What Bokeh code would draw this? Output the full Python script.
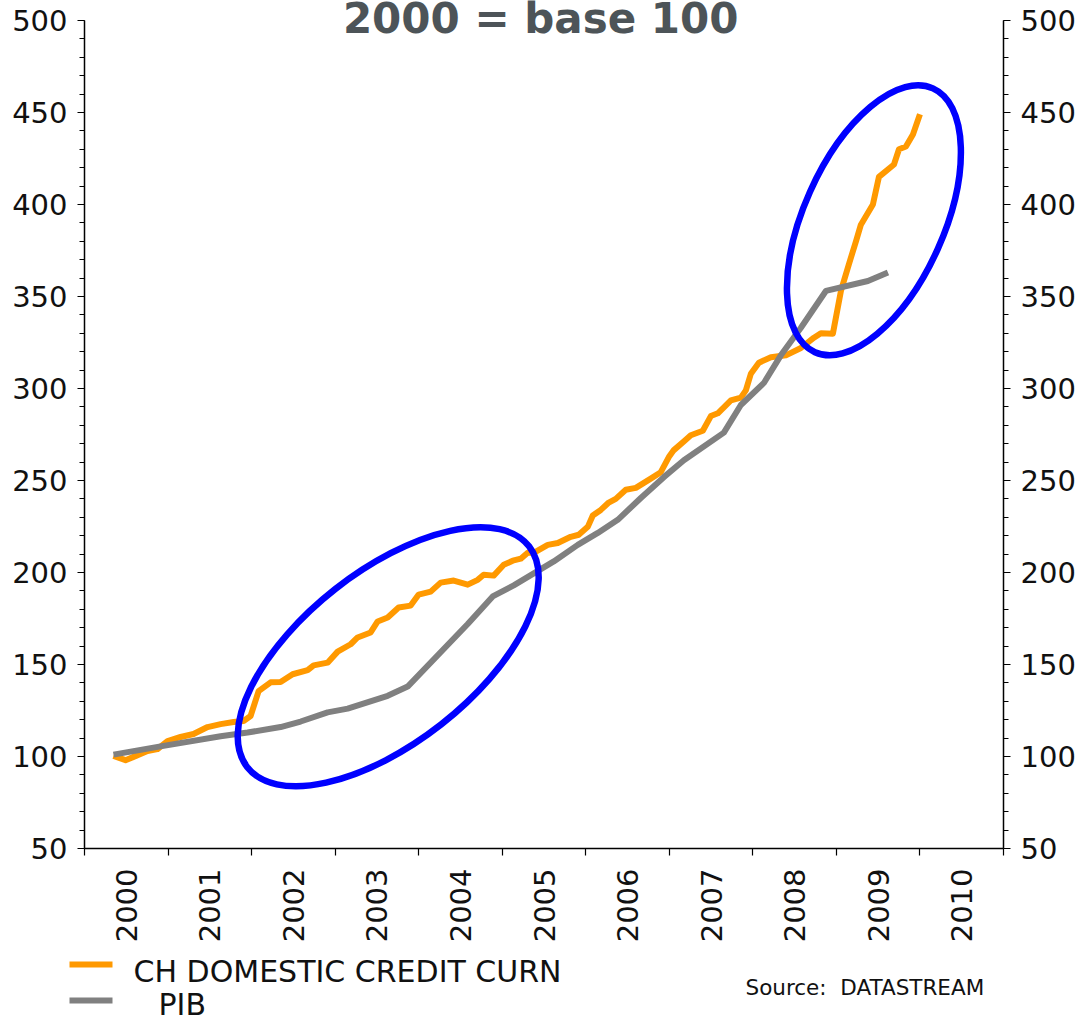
import numpy as np
from bokeh.plotting import figure
from bokeh.layouts import column
from bokeh.models import (Range1d, LinearAxis, FixedTicker, SingleIntervalTicker,
                          Label, ColumnDataSource)
from bokeh.core.properties import value
from bokeh.embed import file_html
from bokeh.resources import INLINE

# ---------------- data ----------------
credit_year = [2000.347, 2000.491, 2000.587, 2000.754, 2000.874, 2000.994, 2001.150, 2001.305,
               2001.473, 2001.629, 2001.784, 2001.904, 2001.988, 2002.084, 2002.228, 2002.347,
               2002.491, 2002.671, 2002.743, 2002.910, 2003.030, 2003.186, 2003.269, 2003.425,
               2003.509, 2003.629, 2003.760, 2003.904, 2004.000, 2004.144, 2004.263, 2004.419,
               2004.587, 2004.707, 2004.778, 2004.898, 2005.018, 2005.126, 2005.222, 2005.305,
               2005.377, 2005.545, 2005.665, 2005.820, 2005.916, 2006.024, 2006.084, 2006.180,
               2006.275, 2006.359, 2006.479, 2006.599, 2006.778, 2006.898, 2006.994, 2007.054,
               2007.180, 2007.257, 2007.401, 2007.497, 2007.581, 2007.737, 2007.856, 2007.916,
               2007.976, 2008.072, 2008.216, 2008.395, 2008.575, 2008.731, 2008.814, 2008.958,
               2009.054, 2009.150, 2009.234, 2009.293, 2009.437, 2009.509, 2009.689, 2009.749,
               2009.832, 2009.916, 2010.000]
credit_value = [100.3, 98.0, 99.8, 103.0, 104.0, 108.4, 110.6, 112.2,
                116.0, 117.6, 118.7, 119.3, 122.0, 135.5, 140.3, 140.5,
                144.7, 146.9, 149.5, 151.0, 157.0, 161.0, 164.7, 167.4,
                173.4, 175.5, 181.0, 182.0, 188.0, 189.6, 194.5, 195.6,
                193.4, 196.0, 198.8, 198.3, 204.2, 206.4, 207.5, 210.7,
                210.7, 215.0, 216.0, 219.4, 220.5, 224.8, 231.0, 234.0,
                238.0, 240.0, 245.0, 246.0, 251.0, 254.5, 262.7, 266.5,
                271.5, 274.6, 277.0, 285.0, 286.5, 293.5, 295.0, 299.0,
                308.0, 314.0, 317.0, 318.0, 322.0, 327.6, 330.0, 329.8,
                353.0, 367.6, 380.0, 389.0, 400.0, 415.0, 421.7, 430.0,
                431.5, 438.0, 449.0]

gdp_year = [2000.347, 2000.910, 2001.629, 2001.952, 2002.347, 2002.587, 2002.910, 2003.150,
            2003.629, 2003.868, 2004.587, 2004.886, 2005.138, 2005.617, 2005.904, 2006.144,
            2006.383, 2006.659, 2006.934, 2007.174, 2007.653, 2007.856, 2008.132, 2008.335,
            2008.575, 2008.874, 2009.377, 2009.617]
gdp_value = [101.0, 105.5, 111.0, 113.0, 116.0, 119.0, 124.0, 126.0,
             133.0, 138.0, 172.0, 187.0, 193.0, 206.0, 215.0, 221.5,
             228.6, 240.5, 251.8, 261.0, 276.0, 291.0, 303.0, 318.0,
             333.0, 353.0, 358.4, 363.0]

year_labels = ["2000", "2001", "2002", "2003", "2004", "2005",
               "2006", "2007", "2008", "2009", "2010"]
year_bounds = [2000, 2001, 2002, 2003, 2004, 2005, 2006, 2007, 2008, 2009, 2010, 2011]

series_names = ["CH DOMESTIC CREDIT CURN", "PIB"]
series_colors = ["#FF9900", "#808080"]
source_text = "Source:\u00a0 DATASTREAM"
title_text = "2000 = base 100"

# highlight ellipses (annotation geometry, screen-sized)
hl_x = [2003.635, 2009.449]
hl_y = [154.2, 391.4]
hl_w = [358, 289]
hl_h = [172, 140]
hl_angle = [38.1, 65.9]

FONT = "DejaVu Sans"
W = 1078
H_MAIN = 945
H_LEG = 1022 - H_MAIN
Y_LO, Y_HI = 50, 500
# frame reaches the canvas top; the y axis itself stops at 500 (20 px below the top)
Y_TOP = Y_HI + 20 * (Y_HI - Y_LO) / 830.0

# ---------------- main figure ----------------
p = figure(width=W, height=H_MAIN,
           x_range=Range1d(2000, 2011), y_range=Range1d(Y_LO, Y_TOP),
           output_backend="svg", toolbar_location=None,
           x_axis_location=None, y_axis_location=None,
           min_border_left=84, min_border_right=73,
           min_border_top=0, min_border_bottom=95)
p.outline_line_color = None
p.grid.visible = False
p.background_fill_color = "white"
p.border_fill_color = "white"
p.frame_align = False

label_pos = [int(s) + 0.5 for s in year_labels]
xaxis = LinearAxis(ticker=FixedTicker(ticks=label_pos, minor_ticks=year_bounds),
                   major_label_overrides={lp: s for lp, s in zip(label_pos, year_labels)})
xaxis.major_label_orientation = np.pi / 2
xaxis.major_tick_line_color = None
xaxis.major_tick_out = 0
xaxis.major_tick_in = 0
xaxis.minor_tick_out = 7
xaxis.minor_tick_in = 0
xaxis.minor_tick_line_color = "black"
xaxis.minor_tick_line_width = 1.2
xaxis.axis_line_color = "black"
xaxis.axis_line_width = 1.5
xaxis.major_label_text_font = FONT
xaxis.major_label_text_font_size = "29px"
xaxis.major_label_text_color = "#111111"
xaxis.major_label_standoff = 13
p.add_layout(xaxis, "below")

for side in ("left", "right"):
    ax = LinearAxis(ticker=SingleIntervalTicker(interval=50, num_minor_ticks=5),
                    bounds=(Y_LO, Y_HI))
    ax.major_tick_out = 7
    ax.major_tick_in = 0
    ax.minor_tick_out = 5
    ax.minor_tick_in = 0
    ax.major_tick_line_color = "black"
    ax.minor_tick_line_color = "black"
    ax.major_tick_line_width = 1.2
    ax.minor_tick_line_width = 1.0
    ax.axis_line_color = "black"
    ax.axis_line_width = 1.5
    ax.major_label_text_font = FONT
    ax.major_label_text_font_size = "29px"
    ax.major_label_text_color = "#111111"
    ax.major_label_standoff = 10
    p.add_layout(ax, side)

credit_src = ColumnDataSource(dict(x=credit_year, y=credit_value))
gdp_src = ColumnDataSource(dict(x=gdp_year, y=gdp_value))

p.line("x", "y", source=credit_src, line_color=series_colors[0], line_width=6,
       line_join="round")
p.line("x", "y", source=gdp_src, line_color=series_colors[1], line_width=6,
       line_join="round")

p.ellipse(x=hl_x, y=hl_y, width=hl_w, height=hl_h, angle=hl_angle, angle_units="deg",
          width_units="screen", height_units="screen",
          fill_alpha=0, line_color="#0000FF", line_width=6.5)

p.add_layout(Label(x=2005.46, y=501.0, text=title_text, text_align="center",
                   text_baseline="middle", text_font=FONT, text_font_style="bold",
                   text_font_size="42px", text_color="#4D5458"))

# ---------------- legend / source strip (page-pixel coordinates) ----------------
q = figure(width=W, height=H_LEG, x_range=Range1d(0, W), y_range=Range1d(H_LEG, 0),
           output_backend="svg", toolbar_location=None,
           x_axis_location=None, y_axis_location=None,
           min_border_left=0, min_border_right=0, min_border_top=0, min_border_bottom=0)
q.outline_line_color = None
q.grid.visible = False
q.background_fill_color = "white"
q.border_fill_color = "white"
q.frame_align = False

swatch_x0 = [69, 69]
swatch_x1 = [112, 112]
swatch_y = [19, 55]
label_x = [133, 158]
label_y = [26, 59]
q.segment(x0=swatch_x0, y0=swatch_y, x1=swatch_x1, y1=swatch_y,
          line_color=series_colors, line_width=6)
q.text(x=label_x, y=label_y, text=series_names, text_align="left", text_baseline="middle",
       text_font=value(FONT), text_font_size="30px", text_color="#111111")
q.text(x=[745], y=[42], text=[source_text], text_align="left", text_baseline="middle",
       text_font=value(FONT), text_font_size="21.5px", text_color="#111111")

layout = column(p, q, spacing=0)
open("out.html", "w").write(file_html(layout, INLINE))
